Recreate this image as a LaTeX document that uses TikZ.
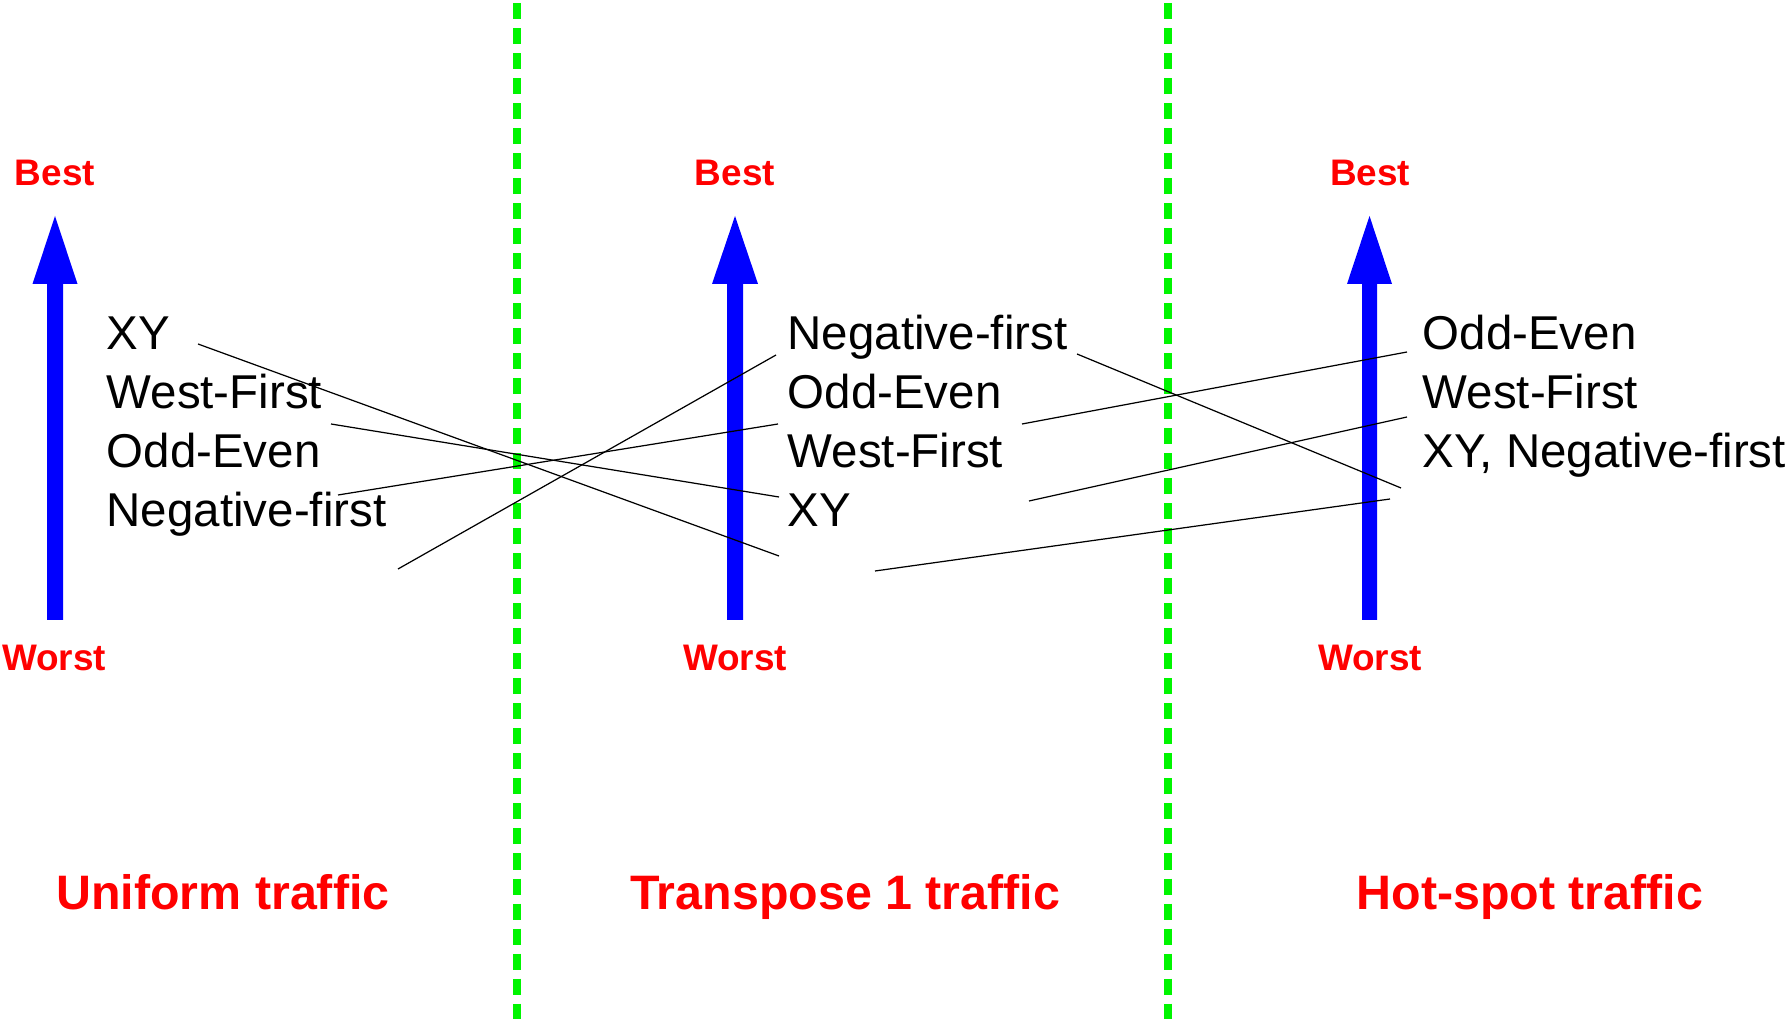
\documentclass[tikz,border=0pt]{standalone}
\usepackage{fontspec}
\setmainfont{Liberation Sans}
\usetikzlibrary{arrows.meta}
\definecolor{dgreen}{RGB}{0,245,0}
\definecolor{lblred}{RGB}{255,0,0}
\definecolor{arrblue}{RGB}{0,0,255}
\begin{document}
\begin{tikzpicture}[x=0.01cm,y=-0.01cm,
  divider/.style={draw=dgreen, line width=0.08cm, dash pattern=on 0.16cm off 0.09cm},
  rank/.style={fill=arrblue, draw=none},
  endlbl/.style={text=lblred, font=\fontsize{10.5pt}{12pt}\selectfont\bfseries, inner sep=0pt, anchor=base},
  item/.style={font=\fontsize{13.5pt}{16pt}\selectfont, inner sep=0pt, anchor=base west},
  title/.style={text=lblred, font=\fontsize{13.75pt}{16pt}\selectfont\bfseries, inner sep=0pt, anchor=base},
  link/.style={draw=black, line width=0.35pt}]
\useasboundingbox (0,0) rectangle (1791,1019);

% dividers
\draw[divider] (517,3) -- (517,1019);
\draw[divider] (1168,3) -- (1168,1019);

% rank arrows
\foreach \cx/\hw/\sw in {55/22.5/8, 735/23/8, 1369.5/22.5/7.5}{
  \fill[rank] (\cx-\sw,620) -- (\cx-\sw,284) -- (\cx-\hw,284) -- (\cx,216)
     -- (\cx+\hw,284) -- (\cx+\sw,284) -- (\cx+\sw,620) -- cycle;
}

% best / worst labels
\node[endlbl] (best1) at (55,186) {Best};
\node[endlbl] (best2) at (735,186) {Best};
\node[endlbl] (best3) at (1370,186) {Best};
\node[endlbl] (worst1) at (54,671) {Worst};
\node[endlbl] (worst2) at (735,671) {Worst};
\node[endlbl] (worst3) at (1370,671) {Worst};

% uniform
\node[item] (u1) at (106,350) {XY};
\node[item] (u2) at (106,409) {West-First};
\node[item] (u3) at (106,468) {Odd-Even};
\node[item] (u4) at (106,527) {Negative-first};
% transpose
\node[item] (t1) at (787,350) {Negative-first};
\node[item] (t2) at (787,409) {Odd-Even};
\node[item] (t3) at (787,468) {West-First};
\node[item] (t4) at (787,527) {XY};
% hot-spot
\node[item] (h1) at (1422,350) {Odd-Even};
\node[item] (h2) at (1422,409) {West-First};
\node[item] (h3) at (1422,468) {XY, Negative-first};

% titles
\node[title] (tu) at (223,909) {Uniform traffic};
\node[title] (tt) at (845,909) {Transpose 1 traffic};
\node[title] (th) at (1530,909) {Hot-spot traffic};

% connector end points
\coordinate (a1) at (198,344);  \coordinate (b1) at (779,556);
\coordinate (a2) at (331,424);  \coordinate (b2) at (779,497);
\coordinate (a3) at (338,495);  \coordinate (b3) at (778,424);
\coordinate (a4) at (398,569);  \coordinate (b4) at (776,355);
\coordinate (c1) at (1077,354); \coordinate (d1) at (1401,488);
\coordinate (c2) at (1022,424); \coordinate (d2) at (1407,352);
\coordinate (c3) at (1029,501); \coordinate (d3) at (1407,417);
\coordinate (c4) at (875,571);  \coordinate (d4) at (1390,499);

\draw[link] (a1) -- (b1);
\draw[link] (a2) -- (b2);
\draw[link] (a3) -- (b3);
\draw[link] (a4) -- (b4);
\draw[link] (c1) -- (d1);
\draw[link] (c2) -- (d2);
\draw[link] (c3) -- (d3);
\draw[link] (c4) -- (d4);
\end{tikzpicture}
\end{document}
